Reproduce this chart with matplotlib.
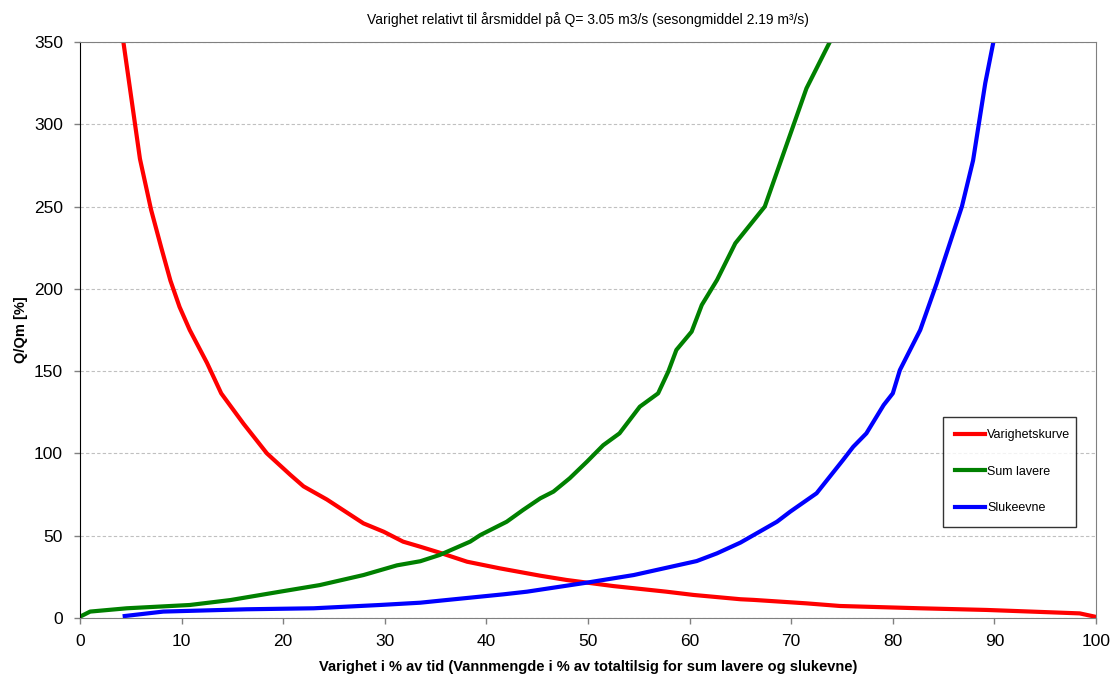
import matplotlib
matplotlib.use("Agg")
import matplotlib.pyplot as plt

plt.rcParams['font.family'] = ['Liberation Sans', 'DejaVu Sans']

# Data
var_x = [4.27, 5.9, 7.0, 8.0, 8.9, 9.8, 10.8, 12.5, 13.9, 16.1, 18.4, 20.7, 22.0, 24.3,
         27.9, 29.9, 31.8, 33.5, 35.5, 38.1, 41.3, 45.3, 47.9, 52.5, 57.7, 60.4, 65.0,
         66.3, 71.5, 74.8, 82.7, 89.2, 95.8, 98.4, 99.9]
var_y = [350, 279, 248, 225, 205, 189, 175, 155, 136.5, 118, 100, 87, 80, 72,
         57.5, 52.4, 46.4, 43.3, 39.5, 34.2, 30.2, 25.7, 23.1, 19.4, 16, 14, 11.4,
         11, 8.9, 7.3, 5.9, 4.9, 3.4, 2.8, 0.8]

sum_x = [0, 1, 4.6, 10.8, 14.8, 19.7, 23.6, 27.9, 31.2, 33.5, 35.4, 38.4, 39.4, 42.0,
         43.6, 45.3, 46.6, 48.2, 49.9, 51.5, 53.1, 55.1, 56.9, 57.9, 58.7, 60.2, 61.2,
         62.7, 64.5, 67.4, 71.5, 73.8]
sum_y = [0.8, 3.9, 5.9, 7.9, 10.9, 16, 20, 26.1, 32, 34.5, 38.3, 46.4, 50.4, 58.5,
         65.6, 72.7, 76.8, 84.9, 95, 105, 112.2, 128.4, 136.5, 149.7, 162.9, 174, 190.2,
         205.4, 227.7, 250, 321.8, 350]

sluk_x = [4.4, 8.2, 16.4, 23.0, 29.5, 33.5, 35.4, 41.7, 44.0, 49.9, 54.5, 60.7, 62.7,
          65.0, 68.6, 69.9, 72.5, 75.1, 76.1, 77.4, 79.1, 80.0, 80.7, 82.7, 84.3, 86.8,
          87.9, 89.1, 89.9]
sluk_y = [1.2, 3.9, 5.3, 5.9, 7.9, 9.3, 10.5, 14.4, 16, 21.5, 26.1, 34.6, 39.3,
          45.8, 58.5, 64.6, 75.8, 96, 104, 112.2, 129.4, 136.5, 150.7, 175, 203, 250,
          278, 325, 350]

labels = ["Varighetskurve", "Sum lavere", "Slukeevne"]
colors = ["#ff0000", "#008000", "#0000ff"]

fig = plt.figure(figsize=(11.16, 6.77), dpi=100)
ax = fig.add_axes([80/1116, 1-618/677, 1016/1116, 576/677])

ax.plot(var_x, var_y, color=colors[0], lw=3, label=labels[0], solid_joinstyle='round')
ax.plot(sum_x, sum_y, color=colors[1], lw=3, label=labels[1], solid_joinstyle='round')
ax.plot(sluk_x, sluk_y, color=colors[2], lw=3, label=labels[2], solid_joinstyle='round')

ax.set_xlim(0, 100)
ax.set_ylim(0, 350)
ax.set_xticks(range(0, 101, 10))
ax.set_yticks(range(0, 351, 50))
ax.yaxis.grid(True, linestyle=(0, (3, 2)), color='#c0c0c0', lw=0.8)
ax.set_axisbelow(True)

for s in ['top', 'right', 'bottom']:
    ax.spines[s].set_color('#808080')
ax.spines['left'].set_color('black')
ax.tick_params(axis='both', direction='out', length=4.3, color='#808080', labelsize=12.5, width=1)
ax.tick_params(axis='x', pad=7)
ax.tick_params(axis='y', pad=8)

ax.set_title("Varighet relativt til årsmiddel på Q= 3.05 m3/s (sesongmiddel 2.19 m³/s)",
             fontsize=10, pad=13)
ax.set_xlabel("Varighet i % av tid (Vannmengde i % av totaltilsig for sum lavere og slukevne)",
              fontsize=10.5, fontweight='bold', labelpad=8)
ax.set_ylabel("Q/Qm [%]", fontsize=10.5, fontweight='bold', labelpad=4)

leg = ax.legend(loc='lower left', bbox_to_anchor=(0.849, 0.1585, 0.131, 0.188),
                mode='expand', fontsize=9, frameon=True, fancybox=False,
                edgecolor='black', labelspacing=1.95, handlelength=2.4,
                handletextpad=0.15, borderpad=1.0, borderaxespad=0)
leg.get_frame().set_linewidth(1.0)

fig.savefig("out.png", dpi=100)
